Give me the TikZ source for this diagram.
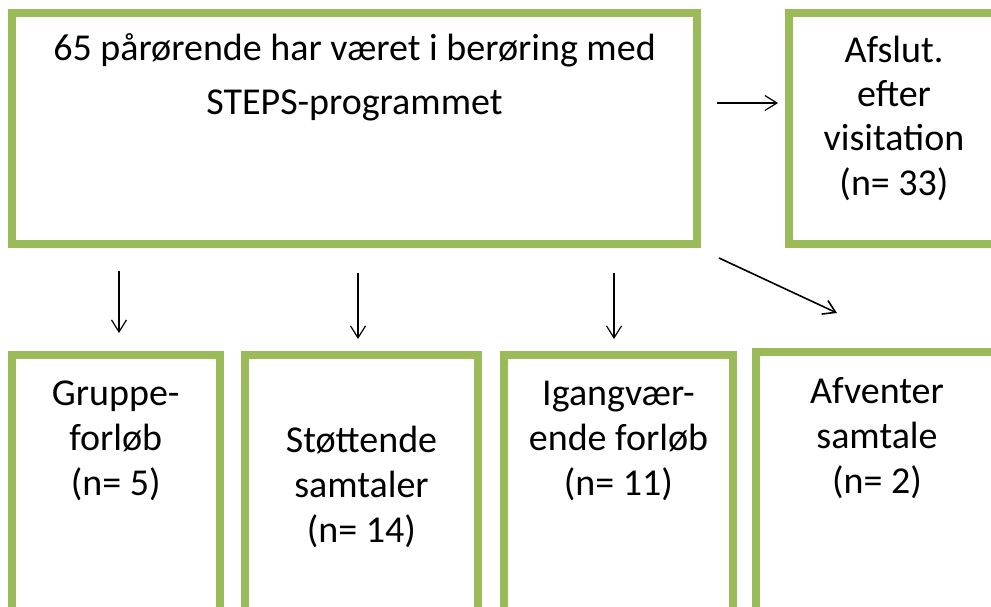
\documentclass[tikz,border=0pt]{standalone}
\usepackage{fontspec}
\setmainfont{Carlito}
\usetikzlibrary{arrows.meta,positioning}
\definecolor{boxgreen}{RGB}{155,187,89}
\tikzset{
  box/.style={rectangle,draw=boxgreen,line width=8pt,inner sep=0pt,outer sep=0pt},
  boxtext/.style={align=center,inner sep=0pt,font=\fontsize{38}{45}\selectfont},
  flow/.style={-{Straight Barb[length=12pt,width=15pt]},line width=1.2pt}
}

\begin{document}
\begin{tikzpicture}[x=1pt,y=-1pt]
  \useasboundingbox (0,0) rectangle (991,606);
  \clip (0,0) rectangle (991,606);
  \node[box, minimum width=685pt, minimum height=231pt] (main) at (354.5,128.5) {};
  \node[box, minimum width=210pt, minimum height=231pt] (afslut) at (894,128.5) {};
  \node[box, minimum width=207.5pt, minimum height=280pt] (gruppe) at (115.75,495) {};
  \node[box, minimum width=233pt, minimum height=280pt] (stoette) at (361.5,495) {};
  \node[box, minimum width=229pt, minimum height=280pt] (igang) at (618.5,495) {};
  \node[box, minimum width=242pt, minimum height=280pt] (afvent) at (877,492) {};

  \node[boxtext, font=\fontsize{38}{54}\selectfont, below=101pt of main.north, anchor=base] (maintxt)
    {65 pårørende har været i berøring med\\STEPS-programmet};
  \node[boxtext, font=\fontsize{38}{44.3}\selectfont, below=182pt of afslut.north, anchor=base] (afsluttxt)
    {Afslut.\\efter\\visitation\\(n= 33)};
  \node[boxtext, below=140pt of gruppe.north, anchor=base] (gruppetxt)
    {Gruppe-\\forløb\\(n= 5)};
  \node[boxtext, below=187pt of stoette.north, anchor=base] (stoettetxt)
    {Støttende\\samtaler\\(n= 14)};
  \node[boxtext, below=140pt of igang.north, anchor=base] (igangtxt)
    {Igangvær-\\ende forløb\\(n= 11)};
  \node[boxtext, below=141pt of afvent.north, anchor=base] (afventtxt)
    {Afventer\\samtale\\(n= 2)};

  \coordinate (r1) at (717,103);
  \coordinate (r2) at (778,103);
  \coordinate (d1) at (719,258);
  \coordinate (d2) at (837,313);
  \coordinate (v1a) at (119,271);
  \coordinate (v1b) at (119,333);
  \coordinate (v2a) at (358,273);
  \coordinate (v2b) at (358,339);
  \coordinate (v3a) at (614,273);
  \coordinate (v3b) at (614,339);
  \draw[flow] (r1) -- (r2);
  \draw[flow, line width=1.6pt] (d1) -- (d2);
  \draw[flow] (v1a) -- (v1b);
  \draw[flow] (v2a) -- (v2b);
  \draw[flow] (v3a) -- (v3b);
\end{tikzpicture}
\end{document}
